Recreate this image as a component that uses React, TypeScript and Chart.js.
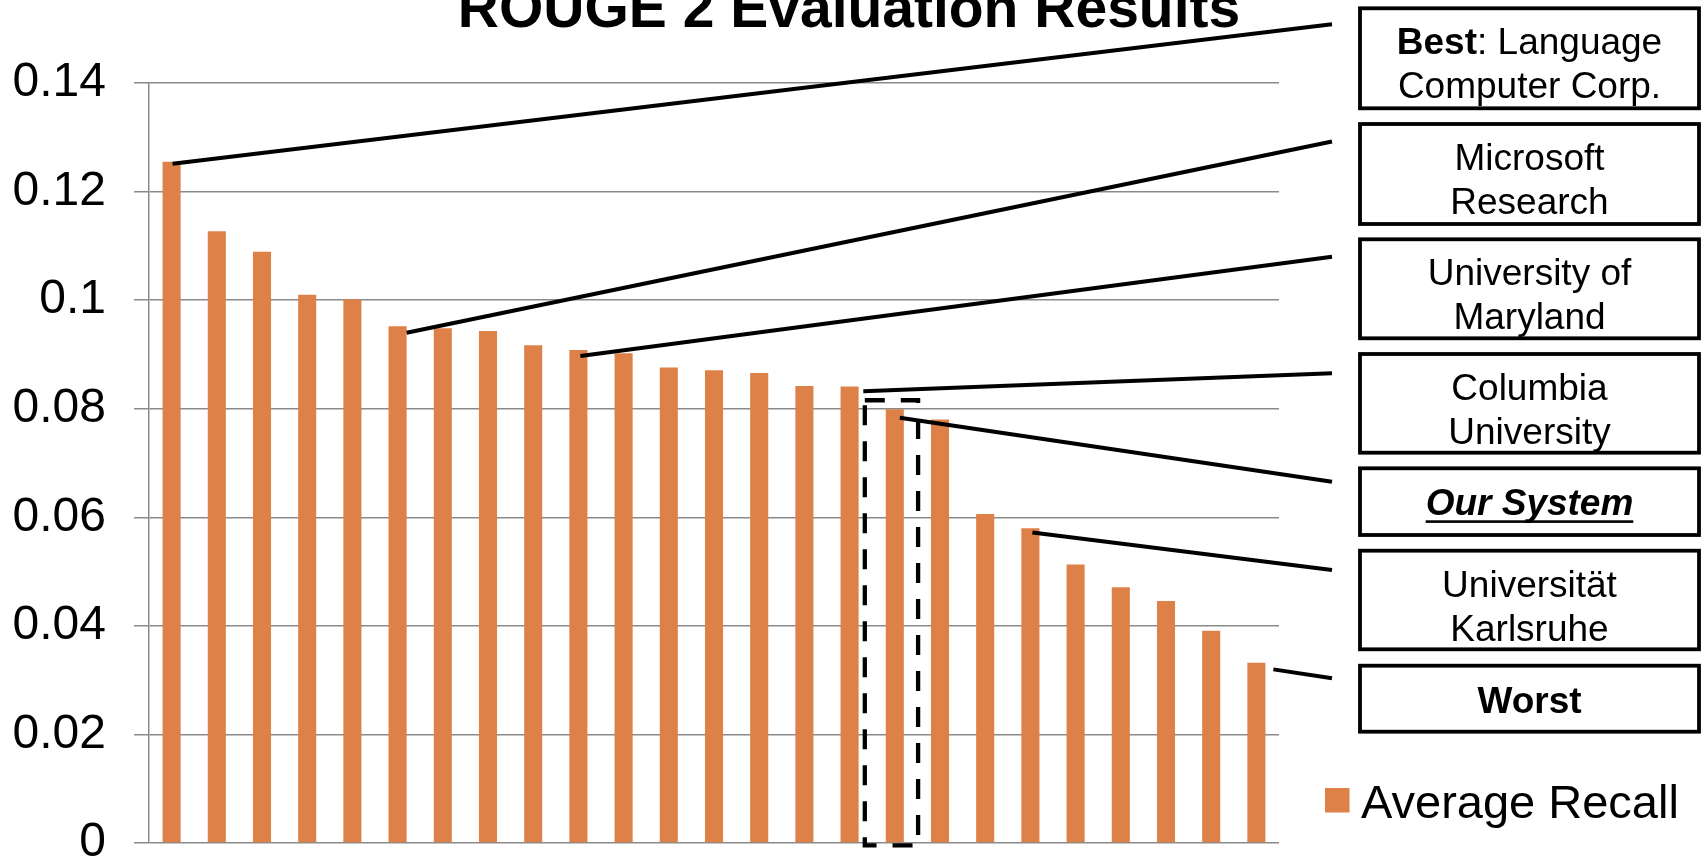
import React, { useEffect, useRef } from "react";
import { Chart, registerables } from "chart.js";

Chart.register(...registerables);

// ---------- data ----------
const titleText = "ROUGE 2 Evaluation Results";
const seriesName = "Average Recall";
const categories = [
  "1", "2", "3", "4", "5", "6", "7", "8", "9", "10", "11", "12", "13",
  "14", "15", "16", "17", "18", "19", "20", "21", "22", "23", "24", "25",
];
const averageRecall = [
  0.1255, 0.1127, 0.1089, 0.101, 0.1001, 0.0952, 0.0948, 0.0943, 0.0917,
  0.0908, 0.0902, 0.0876, 0.0871, 0.0866, 0.0842, 0.0841, 0.0799, 0.078,
  0.0606, 0.058, 0.0513, 0.0471, 0.0446, 0.0391, 0.0332,
];
const yTickValues = [0, 0.02, 0.04, 0.06, 0.08, 0.1, 0.12, 0.14];
const yTickLabels = ["0", "0.02", "0.04", "0.06", "0.08", "0.1", "0.12", "0.14"];

// which bar each call-out box points to
const calloutBars = [0, 5, 9, 15, 16, 19, 24];
type Seg = { t: string; b?: boolean; i?: boolean; u?: boolean };
const calloutLabels: Seg[][][] = [
  [[{ t: "Best", b: true }, { t: ": Language" }], [{ t: "Computer Corp." }]],
  [[{ t: "Microsoft" }], [{ t: "Research" }]],
  [[{ t: "University of" }], [{ t: "Maryland" }]],
  [[{ t: "Columbia" }], [{ t: "University" }]],
  [[{ t: "Our System", b: true, i: true, u: true }]],
  [[{ t: "Universität" }], [{ t: "Karlsruhe" }]],
  [[{ t: "Worst", b: true }]],
];
const highlightBar = 16; // "Our System"

// ---------- layout / style (not data) ----------
const W = 1705;
const H = 859;
const FONT = '"Liberation Sans", Arial, Helvetica, sans-serif';
const BAR_COLOR = "#DE8149";
const GRID_COLOR = "#8a8a8a";
const BOX_LEFT = 1360;
const BOX_RIGHT = 1699;
const BOX_TOPS = [8.3, 124, 239.3, 354, 468.3, 550.7, 665.7];
const BOX_HEIGHTS = [100, 100, 99, 98.7, 66.7, 98.6, 66];
const LINE_END_X = 1332;
const LINE_END_DY = [16, 17.5, 17.4, 19.3, 13.4, 19.3, 12.6];
const ANCHOR_OFFSETS = [
  [1, 2],
  [9, 6.6],
  [2, 6],
  [13.7, 4.7],
  [5, 8.4],
  [2, 4.4],
  [17, 6.6],
];

function segFont(s: Seg, size: number) {
  return `${s.i ? "italic " : ""}${s.b ? "bold " : ""}${size}px ${FONT}`;
}

const overlayPlugin = {
  id: "overlay",
  afterDraw(chart: any) {
    const ctx: CanvasRenderingContext2D = chart.ctx;
    const meta = chart.getDatasetMeta(0);
    const yScale = chart.scales.y;
    const zeroY = yScale.getPixelForValue(0);
    ctx.save();

    // title (top partly clipped like the original)
    ctx.fillStyle = "#000";
    ctx.textAlign = "center";
    ctx.textBaseline = "alphabetic";
    ctx.font = `bold 57px ${FONT}`;
    ctx.fillText(titleText, 849, 26.7);

    // dashed highlight rectangle around our system
    const hb = meta.data[highlightBar];
    ctx.strokeStyle = "#000";
    ctx.lineWidth = 4.3;
    ctx.setLineDash([20, 16]);
    const rx = hb.x - 30;
    const ry = hb.y - 9;
    ctx.strokeRect(rx, ry, 53.3, zeroY + 2.4 - ry);
    ctx.setLineDash([]);

    // call-out lines
    ctx.lineWidth = 4;
    calloutBars.forEach((bi, k) => {
      const el = meta.data[bi];
      ctx.beginPath();
      ctx.moveTo(el.x + ANCHOR_OFFSETS[k][0], el.y + ANCHOR_OFFSETS[k][1]);
      ctx.lineTo(LINE_END_X, BOX_TOPS[k] + LINE_END_DY[k]);
      ctx.stroke();
    });

    // boxes
    const size = 37;
    const cx = (BOX_LEFT + BOX_RIGHT) / 2;
    calloutLabels.forEach((lines, k) => {
      const top = BOX_TOPS[k];
      const h = BOX_HEIGHTS[k];
      ctx.fillStyle = "#fff";
      ctx.fillRect(BOX_LEFT, top, BOX_RIGHT - BOX_LEFT, h);
      ctx.strokeStyle = "#000";
      ctx.lineWidth = 3.8;
      ctx.strokeRect(BOX_LEFT, top, BOX_RIGHT - BOX_LEFT, h);
      ctx.fillStyle = "#000";
      ctx.textAlign = "left";
      lines.forEach((segs, li) => {
        const baseline =
          lines.length === 1 ? top + 47 : top + 46 + li * 44;
        let total = 0;
        const widths = segs.map((s) => {
          ctx.font = segFont(s, size);
          const w = ctx.measureText(s.t).width;
          total += w;
          return w;
        });
        let x = cx - total / 2;
        segs.forEach((s, si) => {
          ctx.font = segFont(s, size);
          ctx.fillText(s.t, x, baseline);
          if (s.u) {
            ctx.fillRect(x, baseline + 5, widths[si], 2.6);
          }
          x += widths[si];
        });
      });
    });

    // legend
    ctx.fillStyle = BAR_COLOR;
    ctx.fillRect(1325, 788, 24.5, 24.5);
    ctx.fillStyle = "#000";
    ctx.font = `47px ${FONT}`;
    ctx.textAlign = "left";
    ctx.fillText(seriesName, 1361, 817.7);

    ctx.restore();
  },
};

export default function App() {
  const canvasRef = useRef<HTMLCanvasElement | null>(null);

  useEffect(() => {
    document.body.style.margin = "0";
    document.body.style.overflow = "hidden";
    const canvas = canvasRef.current;
    if (!canvas) return;
    const chart = new Chart(canvas, {
      type: "bar",
      data: {
        labels: categories,
        datasets: [
          {
            label: seriesName,
            data: averageRecall,
            backgroundColor: BAR_COLOR,
            borderWidth: 0,
            barPercentage: 0.4,
            categoryPercentage: 1.0,
          },
        ],
      },
      options: {
        responsive: false,
        animation: false,
        devicePixelRatio: 1,
        layout: { padding: { top: 83, right: 426, bottom: 16, left: 0 } },
        plugins: {
          legend: { display: false },
          tooltip: { enabled: false },
          title: { display: false },
        },
        scales: {
          x: { display: false },
          y: {
            min: 0,
            max: 0.14,
            afterFit: (scale: any) => {
              scale.width = 149;
              scale.paddingTop = 0;
              scale.paddingBottom = 0;
            },
            afterBuildTicks: (scale: any) => {
              scale.ticks = yTickValues.map((v) => ({ value: v }));
            },
            ticks: {
              color: "#000",
              padding: 28,
              font: { family: FONT, size: 48 },
              callback: (value: any) => {
                const idx = yTickValues.findIndex(
                  (v) => Math.abs(v - Number(value)) < 1e-9
                );
                return idx >= 0 ? yTickLabels[idx] : "";
              },
            },
            grid: {
              color: GRID_COLOR,
              lineWidth: 1.5,
              tickLength: 15,
              drawTicks: true,
            },
            border: { display: true, color: GRID_COLOR, width: 1.5 },
          },
        },
      },
      plugins: [overlayPlugin],
    });
    return () => chart.destroy();
  }, []);

  return (
    <div style={{ position: "absolute", left: 0, top: 0, width: W, height: H }}>
      <canvas ref={canvasRef} width={W} height={H} style={{ width: W, height: H, display: "block" }} />
    </div>
  );
}
